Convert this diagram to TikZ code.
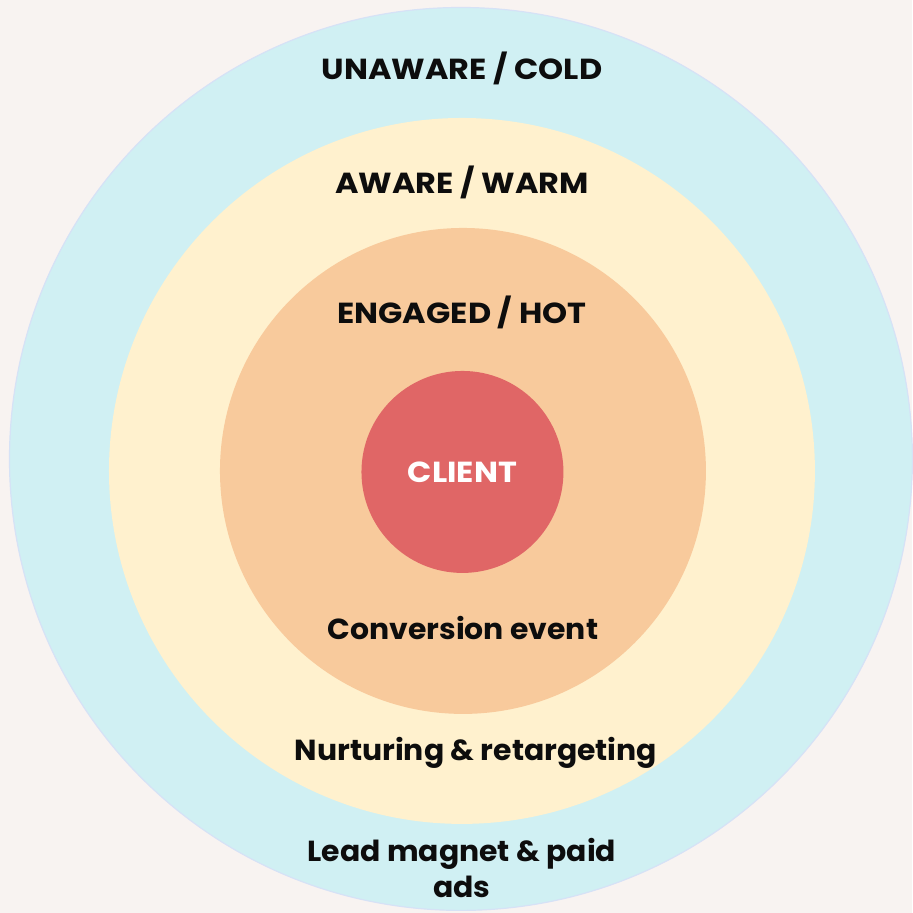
\documentclass[tikz,border=0pt]{standalone}
\usepackage{fontspec}
\setmainfont{Poppins}[FakeStretch=1.03]
\newfontfamily\capsfont{Poppins}[FakeStretch=1.1]
\usetikzlibrary{positioning}
\definecolor{paper}{HTML}{F8F3F1}
\definecolor{coldc}{HTML}{D0F0F3}
\definecolor{rimc}{HTML}{D6E2F6}
\definecolor{warmc}{HTML}{FFF1CE}
\definecolor{hotc}{HTML}{F8CA9C}
\definecolor{clientc}{HTML}{E06666}

\begin{document}
\begin{tikzpicture}[x=1pt, y=1pt]
 % styles for the rings and their captions
 \tikzset{
ring/.style = {circle, inner sep=0pt, minimum size=#1},
tag/.style = {font=\fontsize{29}{36}\selectfont\bfseries, text=black!95, anchor=base, align=center},
stage/.style = {tag, font=\capsfont\fontsize{29}{36}\selectfont\bfseries},
}

 % page background
 \fill[paper] (0,0) rectangle (912,913);

 % the four rings, from the outside in
 \node [ring=903pt, fill=coldc, draw=rimc, line width=1.2pt] (cold) at (461,454) {};
 \node [ring=706pt, fill=warmc] (warm) at (462,442) {};
 \node [ring=486pt, fill=hotc] (hot) at (463,442) {};
 \node [ring=202pt, fill=clientc, text=white, font=\capsfont\fontsize{29}{36}\selectfont\bfseries] (client) at (462.5,441) {CLIENT};

 % stage names
 \node [stage] (coldname) at (462,833) {UNAWARE / COLD};
 \node [stage] (warmname) at (462,719) {AWARE / WARM};
 \node [stage] (hotname) at (462,589) {ENGAGED / HOT};

 % what moves people inward
 \node [tag] (convert) at (463,273) {Conversion event};
 \node [tag] (nurture) at (476,152) {Nurturing \& retargeting};
 \node [tag] (leads) at (462,15) {Lead magnet \& paid\\ ads};

\end{tikzpicture}
\end{document}
